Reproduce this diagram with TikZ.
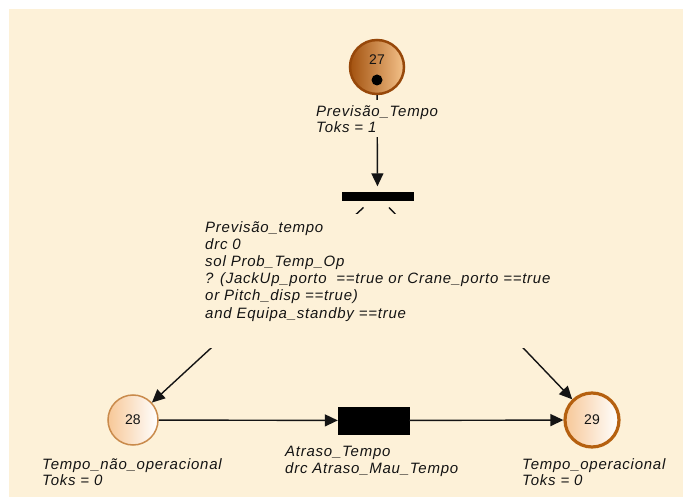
\documentclass[tikz,border=0pt]{standalone}
\usepackage{fontspec}
\setmainfont{Liberation Sans}
\newfontfamily\lblfont[LetterSpace=5]{Liberation Sans}
\usetikzlibrary{arrows.meta,calc}
\definecolor{cream}{HTML}{FDF1D8}
\definecolor{txt}{HTML}{141414}
\definecolor{brdark}{HTML}{97480A}
\definecolor{brfill}{HTML}{A3520F}
\definecolor{brlight}{HTML}{F4C189}
\definecolor{brmid}{HTML}{C98A4B}
\definecolor{brthick}{HTML}{B5600F}
\definecolor{pl}{HTML}{F7C898}
\tikzset{
  arc/.style={draw=txt, line width=1.4pt, -{Triangle[length=13pt,width=12pt]}},
  lbl/.style={font=\lblfont\itshape\fontsize{15}{16}\selectfont, text=txt, align=left, inner sep=0pt, anchor=north west},
  place/.style={circle, minimum size=#1, inner sep=0pt},
  num/.style={font=\fontsize{14}{14}\selectfont, text=txt, inner sep=0pt},
  trans/.style={fill=black, draw=black, inner sep=0pt}
}
\begin{document}
\begin{tikzpicture}[x=1pt,y=-1pt]
\useasboundingbox (0,0) rectangle (683,497);
\fill[white] (0,0) rectangle (683,497);
\fill[cream] (9,9) rectangle (683,497);

% places
\node[place=54pt, draw=brdark, line width=2.5pt, left color=brfill, right color=brlight] (p27) at (377,67) {};
\node[num] (n27) at (377,60) {27};
\fill[black] (377,80) circle (5.5);
\node[place=50pt, draw=brmid, line width=1.5pt, left color=pl, right color=white] (p28) at (133,420) {};
\node[num] (n28) at (133,420) {28};
\node[place=54pt, draw=brthick, line width=3.2pt, left color=pl, right color=white] (p29) at (592,420) {};
\node[num] (n29) at (592,420) {29};

% transitions
\node[trans, minimum width=71pt, minimum height=8pt] (t1) at (377.5,196.5) {};
\node[trans, minimum width=71pt, minimum height=27pt] (t2) at (373.5,420.5) {};

% arcs
\draw[arc, shorten >=6pt] (p27) -- (t1);
\coordinate (a1) at (363.5,207.5);
\coordinate (a2) at (389,207.5);
\draw[arc] (a1) -- (p28);
\draw[arc] (a2) -- (p29);
\draw[arc] (p28) -- (t2);
\draw[arc] (t2) -- (p29);

% labels
\node[lbl, fill=cream, inner sep=5pt] (l27) at (311,100) {Previsão\_Tempo\\Toks = 1};
\fill[cream] (192,214) rectangle (562,348);
\node[lbl, font=\lblfont\itshape\fontsize{15}{17.2}\selectfont] (lt1) at (205,221) {Previsão\_tempo\\drc 0\\sol Prob\_Temp\_Op\\? (JackUp\_porto \ ==true or Crane\_porto ==true\\or Pitch\_disp ==true)\\and Equipa\_standby ==true};
\node[lbl, font=\lblfont\itshape\fontsize{15}{17}\selectfont] (lt2) at (285,446) {Atraso\_Tempo\\drc Atraso\_Mau\_Tempo};
\node[lbl] (l28) at (42,458) {Tempo\_não\_operacional\\Toks = 0};
\node[lbl] (l29) at (522,458) {Tempo\_operacional\\Toks = 0};
\end{tikzpicture}
\end{document}
